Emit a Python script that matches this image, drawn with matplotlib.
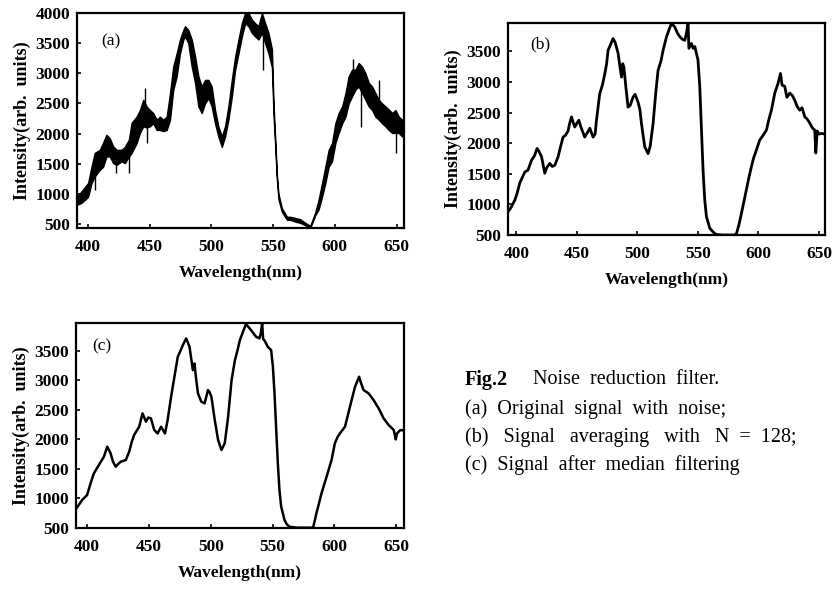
import numpy as np
import matplotlib.pyplot as plt

plt.rcParams['font.family'] = ['Liberation Serif', 'DejaVu Serif']

# (a) original signal: noisy band read as upper / lower envelope
a_wl = [391, 394.6, 400, 402.8, 405.4, 409.5, 412.2, 414.9, 417.6, 420.3, 423.1, 427.1, 429.8,
        433.1, 435.3, 439.3, 442, 444.7, 447.4, 450.1, 452.8, 455.6, 458.2, 460.9, 463.7, 466.4,
        469, 471.8, 474.5, 477.2, 478.6, 481.2, 484, 486.7, 489.4, 492.1, 494.8, 497.5, 500.2,
        502.9, 505.6, 508.4, 511, 513.7, 516.5, 519.2, 521.9, 524.6, 527.3, 530, 532.7, 535.4,
        538.1, 540.9, 543.5, 546.2, 549, 550.3, 551.7, 553, 554.3, 557.1, 561.2, 563.8, 568,
        571.9, 576, 580.1, 584.2, 586.8, 589.6, 592.3, 595, 597.7, 600.4, 603.1, 605.9, 608.6,
        611.2, 614, 616.7, 619.3, 622.1, 624.8, 627.5, 630.2, 632.9, 635.6, 638.3, 641, 643.7,
        646.5, 649.1, 651.8, 654.6, 656]
a_hi = [950, 1040, 1180, 1450, 1680, 1730, 1850, 1980, 1920, 1790, 1730, 1730, 1780,
        1900, 2180, 2280, 2390, 2560, 2450, 2390, 2340, 2230, 2280, 2230, 2280, 2670,
        3110, 3330, 3560, 3720, 3780, 3720, 3560, 3280, 2950, 2780, 2890, 2890, 2780,
        2390, 2120, 1950, 2120, 2450, 2890, 3280, 3560, 3830, 4000, 4000, 3890, 3830,
        3780, 4000, 3830, 3670, 3400, 2500, 1900, 1330, 1000, 760, 620, 620, 600,
        580, 520, 470, 700, 900, 1180, 1450, 1730, 1840, 2170, 2340, 2450, 2670,
        2950, 3060, 3060, 3170, 3110, 3000, 2840, 2780, 2670, 2560, 2500, 2450, 2400,
        2340, 2390, 2280, 2230, 2250]
a_lo = [820, 850, 950, 1180, 1290, 1400, 1450, 1620, 1620, 1510, 1480, 1540, 1510,
        1620, 1680, 1840, 2010, 2120, 2100, 2120, 2170, 2060, 2060, 2040, 2060, 2230,
        2720, 2950, 3330, 3560, 3610, 3500, 3110, 2840, 2450, 2340, 2500, 2590, 2450,
        2170, 1950, 1780, 1950, 2230, 2610, 3060, 3330, 3610, 3830, 3780, 3670, 3610,
        3560, 3670, 3500, 3330, 3100, 2300, 1780, 1240, 910, 700, 570, 570, 540,
        520, 480, 440, 650, 740, 950, 1180, 1450, 1540, 1840, 2010, 2170, 2280,
        2500, 2620, 2730, 2780, 2670, 2560, 2450, 2390, 2280, 2230, 2170, 2120, 2060,
        2010, 2010, 2010, 1950, 2000]
# isolated noise spikes in (a)
spike_wl = [405.8, 423, 433.5, 446.5, 447.8, 541.5, 614.5, 621.3, 636, 649.5]
spike_lo = [1065, 1350, 1345, 2200, 1840, 3060, 2800, 2116, 2300, 1675]
spike_hi = [1500, 1600, 1700, 2750, 2300, 3700, 3230, 2800, 2890, 2200]

# (b) signal averaging, N = 128
b_wl = [393, 395.5, 398.6, 400.5, 402.7, 405, 406.9, 409.5, 412.4, 415, 417, 418.5, 420.7, 422,
        423.4, 425, 427.5, 429.5, 431.7, 434.4, 436.5, 438.5, 440.5, 442.6, 444, 445.5, 447,
        448.2, 450, 451.5, 453.5, 456.4, 458.5, 460.6, 463.3, 465, 466.1, 468.8, 471, 473,
        474.5, 475.7, 477.5, 479.8, 481.5, 484, 485.5, 486.8, 487.8, 488.7, 490.5, 492.2, 494,
        496.4, 498, 500.5, 502, 503.3, 506, 508.8, 510.5, 512.9, 515, 517, 519.5, 521.2, 524,
        526, 528.1, 530.8, 533, 535, 537, 539.1, 540.5, 541.8, 542.5, 544.6, 546, 547.4, 550,
        551.5, 552.9, 554.2, 555.6, 557, 559.8, 562.5, 565, 570, 575, 580, 581.8, 584, 586,
        588, 590, 592, 594.2, 596, 598.3, 601, 603.5, 606.6, 608.5, 610.7, 613.5, 616.2,
        618.2, 619.5, 621.7, 623.5, 625.9, 628, 630, 632, 634.1, 636, 638.3, 640, 642.4,
        644.5, 646.5, 647.4, 648.5, 650, 652, 655]
b_int = [880, 950, 1070, 1180, 1350, 1450, 1530, 1560, 1720, 1800, 1915, 1870, 1780, 1650,
         1510, 1600, 1670, 1620, 1640, 1780, 1950, 2100, 2130, 2200, 2330, 2430, 2330,
         2265, 2330, 2375, 2250, 2100, 2170, 2245, 2100, 2150, 2375, 2810, 2950, 3135,
         3300, 3520, 3600, 3710, 3650, 3470, 3250, 3080, 3300, 3250, 2900, 2590, 2620,
         2755, 2800, 2670, 2550, 2320, 1940, 1830, 1950, 2320, 2800, 3190, 3350, 3520, 3740,
         3850, 3960, 3900, 3800, 3740, 3700, 3680, 3800, 3960, 3550, 3630, 3550, 3580, 3360,
         2920, 2220, 1560, 1070, 800, 610, 550, 510, 500, 500, 500, 520, 680, 860,
         1050, 1235, 1430, 1620, 1760, 1890, 2050, 2120, 2215, 2380, 2540, 2820, 2980,
         3140, 2950, 2930, 2750, 2820, 2780, 2700, 2600, 2540, 2580, 2430, 2400, 2330,
         2250, 2215, 1840, 2200, 2150, 2160, 2150]

# (c) after median filtering
c_wl = [391.4, 396, 400, 402.8, 405.5, 409.5, 413.6, 416.3, 419, 421, 423.1, 425, 427.2, 431.3,
        434, 436, 438, 442.1, 444.8, 447.6, 449.5, 451.6, 454.3, 457, 459.8, 463, 465.1, 467.9,
        470.6, 473.3, 475.5, 477.4, 480.1, 482.8, 485.5, 486.8, 488, 489.6, 492.3, 495, 497.7,
        499, 500.5, 503.2, 505.9, 508.6, 511.3, 514, 516.8, 519.5, 521.5, 523.5, 526, 528.4,
        530.5, 532.5, 536.6, 539.3, 540.5, 541.5, 542.3, 543.3, 546.1, 548.8, 550.2, 551.5,
        552.9, 554.2, 555.5, 556.9, 559.6, 561.5, 563.7, 570, 575, 582.7, 585.4, 587.5, 589.5,
        593.6, 597.6, 600.3, 602.5, 604.4, 608.5, 612.5, 616.6, 619.9, 621.5, 623.5, 627.5,
        631.6, 633.5, 635.7, 639.7, 643.8, 647.9, 649.5, 650.5, 653.3, 656]
c_int = [833, 974, 1058, 1256, 1425, 1566, 1706, 1876, 1764, 1620, 1537, 1580, 1622, 1650,
         1790, 1950, 2074, 2214, 2440, 2300, 2370, 2356, 2158, 2100, 2214, 2100, 2327, 2722,
         3060, 3398, 3500, 3596, 3710, 3568, 3173, 3285, 3050, 2780, 2638, 2610, 2835,
         2800, 2722, 2327, 1990, 1820, 1934, 2383, 3004, 3340, 3500, 3680, 3820, 3950,
         3900, 3850, 3737, 3710, 3800, 3970, 3700, 3680, 3567, 3510, 3229, 2780,
         2158, 1594, 1143, 860, 635, 560, 520, 505, 505, 505, 750, 920, 1087,
         1368, 1650, 1933, 2040, 2102, 2215, 2553, 2891, 3060, 2950, 2835, 2780,
         2666, 2600, 2525, 2356, 2243, 2158, 2000, 2100, 2158, 2150]

x_ticks = [400, 450, 500, 550, 600, 650]

fig = plt.figure(figsize=(8.32, 5.89), dpi=100)
ax_a = fig.add_axes([0.0925, 0.613, 0.393, 0.365])
ax_b = fig.add_axes([0.6106, 0.601, 0.381, 0.36])
ax_c = fig.add_axes([0.0913, 0.1036, 0.394, 0.348])


def style_axis(ax, xlim, ylim, yticks, tag, tag_xy):
    ax.set_xlim(*xlim)
    ax.set_ylim(*ylim)
    ax.set_xticks(x_ticks)
    ax.set_yticks(yticks)
    ax.tick_params(direction='in', length=3, width=1.2, labelsize=12.5, pad=5)
    ax.tick_params(axis='x', pad=8)
    for lab in ax.get_xticklabels() + ax.get_yticklabels():
        lab.set_fontweight('bold')
    for s in ax.spines.values():
        s.set_linewidth(1.6)
    ax.set_xlabel('Wavelength(nm)', fontsize=12.5, fontweight='bold', labelpad=7)
    ax.set_ylabel('Intensity(arb.  units)', fontsize=13, fontweight='bold', labelpad=3)
    ax.text(tag_xy[0], tag_xy[1], tag, transform=ax.transAxes, fontsize=12.5,
            va='center', ha='left')


ax_a.fill_between(a_wl, a_lo, a_hi, color='black', lw=1.0)
ax_a.vlines(spike_wl, spike_lo, spike_hi, color='black', lw=1.0)
style_axis(ax_a, (391, 656), (435, 4000), range(500, 4001, 500), '(a)', (0.075, 0.87))

ax_b.plot(b_wl, b_int, color='black', lw=2.0)
style_axis(ax_b, (393, 655), (500, 3965), range(500, 3501, 500), '(b)', (0.07, 0.90))

ax_c.plot(c_wl, c_int, color='black', lw=1.8)
style_axis(ax_c, (391, 656), (500, 3970), range(500, 3501, 500), '(c)', (0.05, 0.885))

# caption
cap = dict(fontsize=14.5, va='center')
fig.text(0.559, 0.355, 'Fig.2', fontweight='bold', **cap)
fig.text(0.641, 0.355, 'Noise  reduction  filter.', **cap)
fig.text(0.559, 0.305, '(a)  Original  signal  with  noise;', **cap)
fig.text(0.559, 0.257, '(b)   Signal   averaging   with   N  =  128;', **cap)
fig.text(0.559, 0.210, '(c)  Signal  after  median  filtering', **cap)

fig.savefig('out.png', dpi=100)
